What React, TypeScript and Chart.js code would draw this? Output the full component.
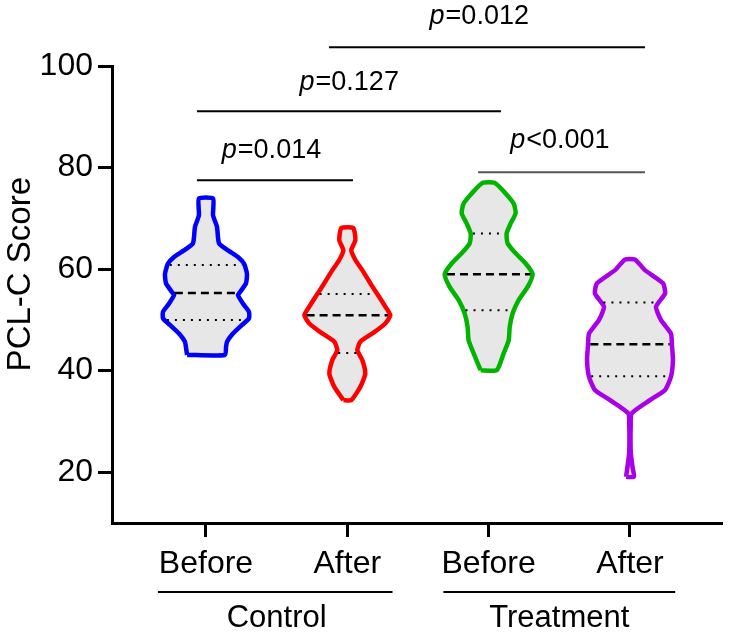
import React, { useEffect, useRef } from 'react';
import { Chart, registerables } from 'chart.js';

Chart.register(...registerables);

// ---------- data ----------
const categories = ['Before', 'After', 'Before', 'After'];
const positions = [1, 2, 3, 4];
const groups = ['Control', 'Treatment'];
const colors = ['#0000FF', '#FF0000', '#00B400', '#A800E8'];
const yTicks = [20, 40, 60, 80, 100];

// violin outlines: score levels (bottom -> top) and half widths (in category units)
const levelsControlBefore = [43.1, 44.7, 45.7, 47.3, 49.0, 50.3, 51.6, 53.2, 54.9, 55.5, 57.2, 59.1, 61.1, 62.4, 63.7, 65.1, 68.3, 70.6, 73.9];
const widthsControlBefore = [0.134, 0.142, 0.149, 0.191, 0.255, 0.304, 0.304, 0.262, 0.226, 0.241, 0.283, 0.29, 0.269, 0.226, 0.156, 0.092, 0.078, 0.05, 0.05];

const levelsControlAfter = [34.2, 36.8, 39.4, 42.1, 44.0, 45.7, 47.6, 49.3, 50.9, 52.6, 54.5, 57.2, 59.8, 61.8, 63.7, 65.7, 68.1];
const widthsControlAfter = [0.028, 0.092, 0.127, 0.106, 0.071, 0.092, 0.191, 0.269, 0.304, 0.269, 0.226, 0.163, 0.106, 0.057, 0.028, 0.057, 0.042];

const levelsTreatBefore = [40.1, 43.4, 46.0, 48.6, 51.3, 53.9, 56.5, 59.0, 61.1, 63.1, 65.1, 67.0, 69.0, 71.0, 72.9, 74.9, 77.0];
const widthsTreatBefore = [0.057, 0.106, 0.142, 0.149, 0.17, 0.212, 0.276, 0.311, 0.262, 0.191, 0.134, 0.127, 0.156, 0.191, 0.177, 0.12, 0.042];

const levelsTreatAfter = [19.1, 21.0, 23.7, 26.3, 28.9, 31.6, 34.2, 36.2, 38.8, 42.1, 45.0, 47.3, 50.0, 52.6, 55.2, 57.2, 59.8, 61.9];
const widthsTreatAfter = [0.028, 0.018, 0.006, 0.004, 0.005, 0.012, 0.141, 0.248, 0.29, 0.304, 0.297, 0.29, 0.219, 0.184, 0.248, 0.234, 0.106, 0.035];

const medians = [55.3, 50.9, 59.0, 45.2];
const quartile1 = [50.0, 43.5, 51.9, 38.9];
const quartile3 = [60.8, 55.1, 67.0, 53.4];

// significance brackets
const pTexts = ['=0.012', '=0.127', '=0.014', '<0.001'];
const bracketStart = [1.87, 0.936, 0.936, 2.925];
const bracketEnd = [4.106, 3.087, 2.04, 4.106];
const bracketLevel = [103.7, 91.1, 77.5, 79.1];
const pLabelX = [2.93, 2.01, 1.46, 3.5];
const pLabelY = [109.7, 96.8, 83.4, 85.4];
const bracketColors = ['#000000', '#000000', '#000000', '#555555'];

// group spans under the axis
const groupStart = [0.66, 2.68];
const groupEnd = [2.32, 4.32];
const groupCenter = [1.5, 3.5];

const violinLevels = [levelsControlBefore, levelsControlAfter, levelsTreatBefore, levelsTreatAfter];
const violinWidths = [widthsControlBefore, widthsControlAfter, widthsTreatBefore, widthsTreatAfter];

const FONT = '"Liberation Sans", Arial, sans-serif';

function halfWidthAt(levels: number[], widths: number[], y: number) {
  for (let i = 0; i < levels.length - 1; i++) {
    if (y >= levels[i] && y <= levels[i + 1]) {
      const t = (y - levels[i]) / (levels[i + 1] - levels[i]);
      return widths[i] + t * (widths[i + 1] - widths[i]);
    }
  }
  return 0;
}

function violinPolygon(idx: number) {
  const c = positions[idx];
  const lv = violinLevels[idx];
  const w = violinWidths[idx];
  const pts: { x: number; y: number }[] = [];
  for (let i = 0; i < lv.length; i++) pts.push({ x: c - w[i], y: lv[i] });
  for (let i = lv.length - 1; i >= 0; i--) pts.push({ x: c + w[i], y: lv[i] });
  pts.push({ x: c - w[0], y: lv[0] });
  return pts;
}

function hLine(idx: number, y: number) {
  const c = positions[idx];
  const hw = halfWidthAt(violinLevels[idx], violinWidths[idx], y) - 0.016;
  return [{ x: c - hw, y }, { x: c + hw, y }];
}

const annotPlugin = {
  id: 'annot',
  afterDraw(chart: any) {
    const { ctx, scales } = chart;
    const xs = scales.x;
    const ys = scales.y;
    ctx.save();
    ctx.fillStyle = '#000';
    ctx.textBaseline = 'middle';
    // p-value labels
    for (let i = 0; i < pTexts.length; i++) {
      const cx = xs.getPixelForValue(pLabelX[i]);
      const cy = ys.getPixelForValue(pLabelY[i]);
      ctx.font = `italic 27px ${FONT}`;
      const wp = ctx.measureText('p').width;
      ctx.font = `27px ${FONT}`;
      const wr = ctx.measureText(pTexts[i]).width;
      const left = cx - (wp + wr) / 2;
      ctx.textAlign = 'left';
      ctx.font = `italic 27px ${FONT}`;
      ctx.fillText('p', left, cy);
      ctx.font = `27px ${FONT}`;
      ctx.fillText(pTexts[i], left + wp + 1, cy);
    }
    // group underlines and labels
    const base = chart.chartArea.bottom;
    ctx.strokeStyle = '#000';
    ctx.lineWidth = 2;
    for (let g = 0; g < groups.length; g++) {
      const x1 = xs.getPixelForValue(groupStart[g]);
      const x2 = xs.getPixelForValue(groupEnd[g]);
      ctx.beginPath();
      ctx.moveTo(x1, base + 69);
      ctx.lineTo(x2, base + 69);
      ctx.stroke();
      ctx.font = `31px ${FONT}`;
      ctx.textAlign = 'center';
      ctx.fillText(groups[g], xs.getPixelForValue(groupCenter[g]), base + 95);
    }
    // y title
    ctx.translate(21, ys.getPixelForValue(59));
    ctx.rotate(-Math.PI / 2);
    ctx.textAlign = 'center';
    ctx.font = `33px ${FONT}`;
    ctx.fillText('PCL-C Score', 0, 0);
    ctx.restore();
  },
};

export default function App() {
  const ref = useRef<HTMLCanvasElement>(null);
  useEffect(() => {
    if (!ref.current) return;
    const datasets: any[] = [];
    // brackets (top)
    for (let i = 0; i < pTexts.length; i++) {
      datasets.push({
        data: [{ x: bracketStart[i], y: bracketLevel[i] }, { x: bracketEnd[i], y: bracketLevel[i] }],
        borderColor: bracketColors[i],
        borderWidth: 2,
        pointRadius: 0,
        fill: false,
        clip: false,
        order: 0,
      });
    }
    // quartile lines
    for (let i = 0; i < positions.length; i++) {
      datasets.push({
        data: hLine(i, medians[i]),
        borderColor: '#000',
        borderWidth: 2.5,
        borderDash: [8, 5],
        pointRadius: 0,
        fill: false,
        order: 1,
      });
      datasets.push({
        data: hLine(i, quartile1[i]),
        borderColor: '#000',
        borderWidth: 2,
        borderDash: [2, 6],
        pointRadius: 0,
        fill: false,
        order: 1,
      });
      datasets.push({
        data: hLine(i, quartile3[i]),
        borderColor: '#000',
        borderWidth: 2,
        borderDash: [2, 6],
        pointRadius: 0,
        fill: false,
        order: 1,
      });
    }
    // violins
    for (let i = 0; i < positions.length; i++) {
      datasets.push({
        data: violinPolygon(i),
        borderColor: colors[i],
        borderWidth: 4.5,
        backgroundColor: '#E7E7E7',
        fill: 'shape',
        tension: 0.18,
        pointRadius: 0,
        order: 2,
      });
    }
    const tickFont = { family: FONT, size: 32 };
    const chart = new Chart(ref.current, {
      type: 'line',
      data: { datasets },
      plugins: [annotPlugin],
      options: {
        responsive: false,
        animation: false,
        events: [],
        layout: { padding: { top: 66, right: 10, left: 0, bottom: 0 } },
        plugins: { legend: { display: false }, tooltip: { enabled: false } },
        scales: {
          x: {
            type: 'linear',
            min: 0.335,
            max: 4.644,
            afterBuildTicks: (s: any) => {
              s.ticks = positions.map((v) => ({ value: v }));
            },
            afterFit: (s: any) => {
              s.height = 113;
            },
            grid: { display: true, drawOnChartArea: false, drawTicks: true, tickLength: 14, color: '#000', lineWidth: 3 },
            border: { display: true, color: '#000', width: 3 },
            ticks: {
              autoSkip: false,
              maxRotation: 0,
              padding: 8,
              color: '#000',
              font: tickFont,
              callback: (_v: any, i: number) => categories[i],
            },
          },
          y: {
            type: 'linear',
            min: 10,
            max: 100,
            afterBuildTicks: (s: any) => {
              s.ticks = yTicks.map((v) => ({ value: v }));
            },
            afterFit: (s: any) => {
              s.width = 112;
            },
            grid: { display: true, drawOnChartArea: false, drawTicks: true, tickLength: 14, color: '#000', lineWidth: 3 },
            border: { display: true, color: '#000', width: 3 },
            ticks: { padding: 5, color: '#000', font: tickFont },
          },
        },
      },
    } as any);
    return () => chart.destroy();
  }, []);
  return (
    <div style={{ position: 'fixed', left: 0, top: 0, width: 731, height: 636, background: '#fff' }}>
      <canvas ref={ref} width={731} height={636} style={{ display: 'block' }} />
    </div>
  );
}
